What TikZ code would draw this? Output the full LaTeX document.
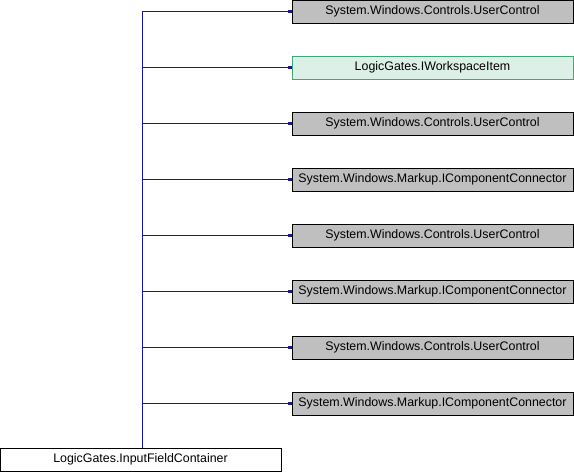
\documentclass[tikz,border=0pt]{standalone}
\usepackage{fontspec}
\setmainfont{Liberation Sans}
\usetikzlibrary{arrows.meta}
\definecolor{edgeblue}{RGB}{25,25,135}
\definecolor{grayfill}{RGB}{191,191,191}
\definecolor{greenfill}{RGB}{221,240,231}
\definecolor{greenborder}{RGB}{60,170,120}
\begin{document}
\begin{tikzpicture}[x=1pt,y=-1pt,
  box/.style={draw=black, line width=0.8pt, minimum width=281pt, minimum height=23pt, inner sep=0pt, font=\fontsize{12.4}{14}\selectfont, anchor=center},
  graybox/.style={box, fill=grayfill},
  greenbox/.style={box, fill=greenfill, draw=greenborder},
  whitebox/.style={box, fill=white},
  conn/.style={draw=edgeblue, line width=1pt, -{Square[length=3.5pt,width=3.5pt]}}]
\useasboundingbox (0,0) rectangle (574,472);
\node[whitebox] (src) at (140.5,459.5) {LogicGates.InputFieldContainer};
\node[graybox] (t1) at (432.5,11.5) {System.Windows.Controls.UserControl};
\node[greenbox] (t2) at (432.5,67.5) {LogicGates.IWorkspaceItem};
\node[graybox] (t3) at (432.5,123.5) {System.Windows.Controls.UserControl};
\node[graybox] (t4) at (432.5,179.5) {System.Windows.Markup.IComponentConnector};
\node[graybox] (t5) at (432.5,235.5) {System.Windows.Controls.UserControl};
\node[graybox] (t6) at (432.5,291.5) {System.Windows.Markup.IComponentConnector};
\node[graybox] (t7) at (432.5,347.5) {System.Windows.Controls.UserControl};
\node[graybox] (t8) at (432.5,403.5) {System.Windows.Markup.IComponentConnector};
\coordinate (vx) at (142,0);
\foreach \t in {t1,t2,t3,t4,t5,t6,t7,t8}{
  \draw[conn] (vx |- src.north) -- (vx |- \t.west) -- (\t.west);
}
\end{tikzpicture}
\end{document}
